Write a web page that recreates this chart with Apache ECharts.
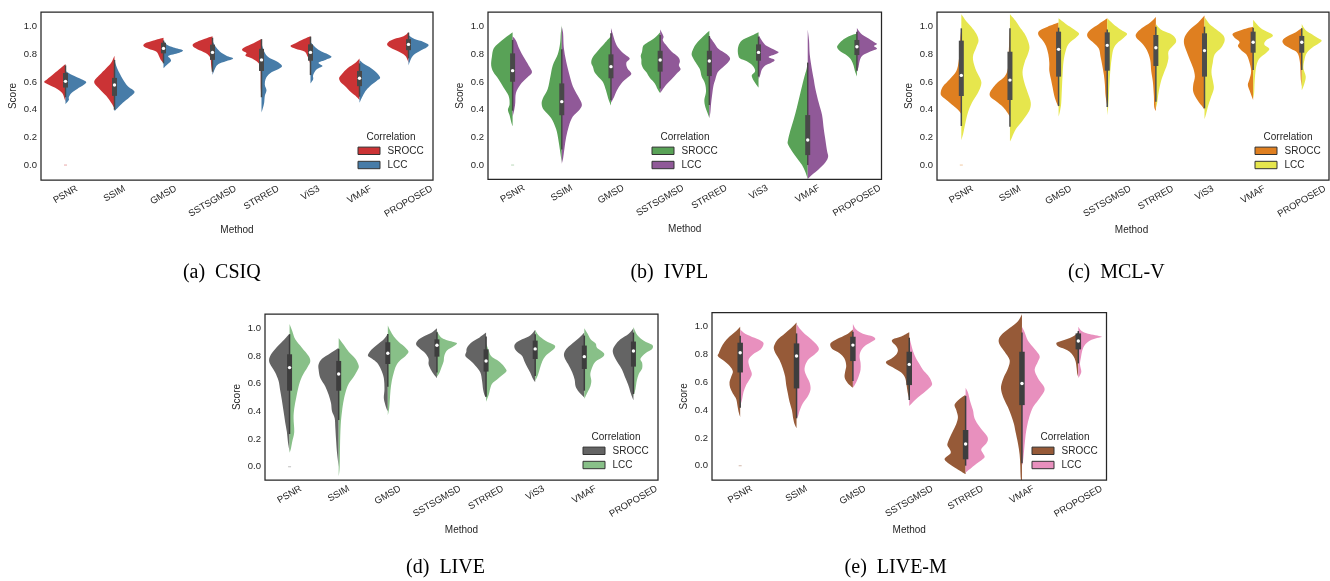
<!DOCTYPE html>
<html><head><meta charset="utf-8">
<script src="https://cdn.jsdelivr.net/npm/echarts@6/dist/echarts.min.js"></script>
<style>html,body{margin:0;padding:0;background:#fff}#c{width:1330px;height:581px}</style>
</head><body><div id="c"></div><script>
// ---------------- DATA ----------------
const methods = ['PSNR','SSIM','GMSD','SSTSGMSD','STRRED','ViS3','VMAF','PROPOSED'];
const methodsLiveM = ['PSNR','SSIM','GMSD','SSTSGMSD','STRRED','VMAF','PROPOSED'];
const correlations = ['SROCC','LCC'];
const captions = ['(a)  CSIQ','(b)  IVPL','(c)  MCL-V','(d)  LIVE','(e)  LIVE-M'];
const yTicks = [0, 0.2, 0.4, 0.6, 0.8, 1.0];
const zeroMarkValue = 0.0; // tiny PSNR mark at 0.0 in every panel

// Half-violin profiles: [score, relative density width]
const csiqSrocc = [
 [[0.73,0],[0.70,15],[0.66,35],[0.62,55],[0.60,64],[0.58,50],[0.55,25],[0.52,10],[0.48,3],[0.46,0]],
 [[0.79,0],[0.74,10],[0.70,25],[0.65,45],[0.60,61],[0.55,45],[0.50,25],[0.45,10],[0.41,0]],
 [[0.92,0],[0.90,30],[0.88,55],[0.86,60],[0.84,45],[0.82,22],[0.79,14],[0.76,8],[0.74,0]],
 [[0.93,0],[0.91,25],[0.88,55],[0.86,59],[0.84,48],[0.82,30],[0.80,15],[0.77,6],[0.72,4],[0.66,0]],
 [[0.91,0],[0.88,24],[0.85,52],[0.83,58],[0.81,45],[0.79,48],[0.77,28],[0.74,10],[0.70,3],[0.55,2],[0.49,0]],
 [[0.93,0],[0.91,20],[0.88,45],[0.86,60],[0.84,45],[0.82,18],[0.79,10],[0.76,4],[0.72,0]],
 [[0.77,0],[0.74,12],[0.70,36],[0.66,52],[0.63,61],[0.60,57],[0.57,43],[0.53,27],[0.50,12],[0.47,0]],
 [[0.96,0],[0.93,15],[0.91,43],[0.89,60],[0.87,64],[0.85,55],[0.82,30],[0.79,10],[0.76,3],[0.74,0]]
];
const csiqLcc = [
 [[0.68,0],[0.65,20],[0.62,48],[0.60,62],[0.58,55],[0.55,35],[0.52,18],[0.49,10],[0.47,10],[0.44,0]],
 [[0.76,0],[0.70,8],[0.62,25],[0.57,40],[0.53,60],[0.49,45],[0.45,25],[0.42,12],[0.39,0]],
 [[0.90,0],[0.87,10],[0.85,30],[0.83,58],[0.81,45],[0.79,15],[0.77,20],[0.75,22],[0.72,8],[0.70,0]],
 [[0.90,0],[0.86,8],[0.82,22],[0.79,42],[0.77,62],[0.75,40],[0.73,18],[0.70,8],[0.65,0]],
 [[0.88,0],[0.82,8],[0.78,20],[0.75,45],[0.72,61],[0.70,55],[0.67,30],[0.63,14],[0.58,10],[0.54,15],[0.50,10],[0.45,8],[0.41,4],[0.38,0]],
 [[0.89,0],[0.85,15],[0.82,33],[0.80,52],[0.78,63],[0.76,45],[0.74,24],[0.715,36],[0.69,18],[0.65,8],[0.62,8],[0.59,0]],
 [[0.76,0],[0.73,14],[0.70,35],[0.67,50],[0.63,62],[0.61,52],[0.58,36],[0.54,20],[0.50,10],[0.45,0]],
 [[0.94,0],[0.91,18],[0.89,45],[0.87,60],[0.85,54],[0.83,38],[0.80,18],[0.77,8],[0.72,0]]
];
const csiqBox = [ // [whiskerLow, q1, median, q3, whiskerHigh]
 [0.49,0.56,0.605,0.665,0.72],[0.40,0.50,0.578,0.63,0.76],[0.735,0.807,0.843,0.884,0.90],[0.675,0.76,0.814,0.87,0.92],
 [0.49,0.68,0.76,0.84,0.91],[0.65,0.754,0.814,0.872,0.928],[0.494,0.57,0.627,0.68,0.735],[0.771,0.83,0.872,0.91,0.957]
];

const ivplSrocc = [
 [[0.96,0],[0.92,22],[0.88,42],[0.84,57],[0.78,62],[0.72,64],[0.67,57],[0.62,42],[0.56,27],[0.50,12],[0.44,9],[0.40,14],[0.36,9],[0.31,4],[0.28,0]],
 [[1.01,0],[0.95,3],[0.88,5],[0.80,12],[0.72,27],[0.64,34],[0.55,42],[0.48,57],[0.44,60],[0.40,54],[0.34,32],[0.26,17],[0.18,10],[0.10,5],[0.02,0]],
 [[0.93,0],[0.88,19],[0.84,34],[0.78,54],[0.74,59],[0.71,54],[0.67,49],[0.64,39],[0.60,24],[0.54,15],[0.48,8],[0.43,0]],
 [[0.96,0],[0.92,16],[0.88,41],[0.86,51],[0.82,54],[0.79,58],[0.76,56],[0.73,56],[0.70,51],[0.67,41],[0.63,31],[0.59,16],[0.55,8],[0.52,0]],
 [[0.97,0],[0.93,18],[0.88,38],[0.84,48],[0.80,53],[0.77,48],[0.73,38],[0.69,28],[0.64,23],[0.59,13],[0.53,10],[0.47,15],[0.42,12],[0.38,6],[0.34,0]],
 [[0.96,0],[0.93,25],[0.90,50],[0.86,60],[0.82,62],[0.79,60],[0.77,55],[0.75,35],[0.72,18],[0.68,10],[0.65,20],[0.62,17],[0.59,9],[0.56,0]],
 [[0.75,0],[0.70,3],[0.62,12],[0.52,22],[0.42,32],[0.33,42],[0.25,52],[0.18,59],[0.15,59],[0.10,47],[0.05,32],[0.00,17],[-0.05,7],[-0.10,0]],
 [[0.95,0],[0.93,24],[0.90,44],[0.87,56],[0.85,59],[0.82,49],[0.79,29],[0.76,17],[0.72,10],[0.68,6],[0.64,0]]
];
const ivplLcc = [
 [[0.93,0],[0.90,10],[0.84,20],[0.78,33],[0.72,48],[0.67,58],[0.63,43],[0.58,23],[0.52,10],[0.45,8],[0.40,5],[0.35,0]],
 [[1.00,0],[0.95,4],[0.85,6],[0.75,13],[0.65,23],[0.57,33],[0.50,48],[0.44,60],[0.40,53],[0.35,33],[0.28,21],[0.20,13],[0.12,8],[0.05,4],[0.01,0]],
 [[0.99,0],[0.95,5],[0.90,11],[0.85,21],[0.80,41],[0.77,56],[0.74,46],[0.70,49],[0.66,61],[0.63,49],[0.59,31],[0.54,18],[0.49,9],[0.45,0]],
 [[0.98,0],[0.93,10],[0.90,8],[0.86,20],[0.82,34],[0.78,54],[0.75,59],[0.72,56],[0.69,61],[0.66,49],[0.62,34],[0.58,18],[0.54,6],[0.52,0]],
 [[0.93,0],[0.88,15],[0.84,27],[0.80,52],[0.77,62],[0.74,55],[0.70,37],[0.67,25],[0.62,18],[0.57,12],[0.50,8],[0.44,5],[0.38,3],[0.34,0]],
 [[0.94,0],[0.89,13],[0.86,25],[0.83,50],[0.815,60],[0.80,50],[0.78,30],[0.76,48],[0.74,38],[0.72,20],[0.69,10],[0.65,5],[0.62,0]],
 [[0.98,0],[0.90,4],[0.80,6],[0.70,12],[0.62,18],[0.55,23],[0.45,33],[0.36,43],[0.26,48],[0.18,53],[0.10,58],[0.06,61],[0.02,53],[-0.03,33],[-0.07,13],[-0.10,0]],
 [[0.99,0],[0.95,12],[0.92,31],[0.89,51],[0.875,60],[0.86,51],[0.84,60],[0.82,40],[0.79,16],[0.75,8],[0.71,5],[0.67,0]]
];
const ivplBox = [
 [0.393,0.602,0.682,0.807,0.904],[0.113,0.36,0.458,0.59,0.836],[0.47,0.627,0.711,0.80,0.952],[0.554,0.675,0.759,0.826,0.94],
 [0.434,0.643,0.752,0.826,0.932],[0.639,0.754,0.814,0.872,0.928],[0.0,0.072,0.181,0.361,0.74],[0.682,0.795,0.855,0.904,0.964]
];

const mclvSrocc = [
 [[0.98,0],[0.92,3],[0.82,5],[0.75,8],[0.68,15],[0.62,35],[0.57,55],[0.53,62],[0.50,60],[0.47,45],[0.43,25],[0.40,10],[0.37,0]],
 [[0.98,0],[0.90,2],[0.80,4],[0.70,6],[0.64,16],[0.60,36],[0.56,51],[0.52,61],[0.49,58],[0.46,41],[0.42,21],[0.38,8],[0.35,0]],
 [[1.03,0],[1.00,33],[0.97,58],[0.94,61],[0.90,48],[0.86,38],[0.80,31],[0.74,28],[0.68,28],[0.62,23],[0.56,18],[0.50,13],[0.45,6],[0.42,0]],
 [[1.06,0],[1.02,25],[0.98,50],[0.95,60],[0.92,58],[0.88,40],[0.84,25],[0.78,20],[0.72,15],[0.65,10],[0.58,7],[0.50,5],[0.43,0]],
 [[1.07,0],[1.03,17],[0.99,42],[0.95,59],[0.92,59],[0.88,42],[0.83,27],[0.76,17],[0.68,14],[0.60,9],[0.50,6],[0.42,5],[0.39,0]],
 [[1.08,0],[1.03,19],[0.98,44],[0.93,59],[0.88,62],[0.82,54],[0.76,44],[0.70,34],[0.64,29],[0.58,34],[0.53,34],[0.48,24],[0.43,9],[0.40,0]],
 [[1.00,0],[0.98,31],[0.95,61],[0.92,56],[0.89,41],[0.86,46],[0.83,36],[0.80,21],[0.75,12],[0.68,6],[0.62,11],[0.58,16],[0.54,11],[0.50,5],[0.47,0]],
 [[0.99,0],[0.96,18],[0.93,43],[0.90,58],[0.87,53],[0.84,33],[0.81,13],[0.75,6],[0.68,4],[0.62,3],[0.57,0]]
];
const mclvLcc = [
 [[1.09,0],[1.04,15],[1.00,30],[0.95,45],[0.90,52],[0.85,45],[0.78,35],[0.70,42],[0.62,58],[0.58,60],[0.52,50],[0.45,32],[0.38,20],[0.30,12],[0.23,6],[0.18,0]],
 [[1.09,0],[1.04,18],[1.00,29],[0.95,44],[0.90,54],[0.85,59],[0.80,54],[0.74,44],[0.67,38],[0.60,43],[0.52,54],[0.45,63],[0.39,58],[0.32,38],[0.26,18],[0.20,6],[0.17,0]],
 [[1.06,0],[1.02,22],[0.98,47],[0.95,62],[0.92,52],[0.88,32],[0.83,22],[0.75,15],[0.65,12],[0.55,10],[0.45,8],[0.40,5],[0.35,0]],
 [[1.06,0],[1.02,18],[0.98,40],[0.95,60],[0.92,50],[0.88,30],[0.84,19],[0.78,14],[0.70,10],[0.60,7],[0.50,5],[0.42,3],[0.36,0]],
 [[1.02,0],[0.98,15],[0.95,43],[0.92,58],[0.89,61],[0.86,51],[0.82,38],[0.77,38],[0.72,33],[0.67,25],[0.60,15],[0.52,8],[0.45,4],[0.41,0]],
 [[1.07,0],[1.02,15],[0.98,36],[0.94,56],[0.90,61],[0.85,51],[0.80,31],[0.74,25],[0.67,21],[0.60,26],[0.55,28],[0.48,18],[0.42,10],[0.37,5],[0.33,0]],
 [[1.05,0],[1.01,14],[0.98,29],[0.95,54],[0.93,59],[0.90,39],[0.87,34],[0.84,49],[0.81,39],[0.77,19],[0.72,10],[0.65,6],[0.58,4],[0.52,3],[0.48,0]],
 [[1.02,0],[0.98,10],[0.95,27],[0.92,47],[0.90,60],[0.88,52],[0.85,32],[0.81,15],[0.76,8],[0.70,5],[0.64,12],[0.59,8],[0.54,0]]
];
const mclvBox = [
 [0.282,0.499,0.648,0.899,0.988],[0.277,0.47,0.614,0.819,0.988],[0.427,0.639,0.836,0.964,0.993],[0.42,0.682,0.865,0.959,0.98],
 [0.458,0.716,0.848,0.94,1.0],[0.41,0.639,0.827,0.952,1.0],[0.687,0.812,0.887,0.964,0.993],[0.687,0.812,0.887,0.933,0.988]
];

const liveSrocc = [
 [[0.96,0],[0.90,23],[0.85,43],[0.80,58],[0.76,61],[0.72,53],[0.68,43],[0.62,33],[0.55,28],[0.48,23],[0.40,18],[0.32,13],[0.25,8],[0.18,5],[0.11,0]],
 [[0.86,0],[0.82,25],[0.78,50],[0.74,60],[0.70,60],[0.64,55],[0.58,40],[0.52,30],[0.46,23],[0.40,20],[0.35,12],[0.28,10],[0.20,8],[0.10,5],[0.00,0]],
 [[0.96,0],[0.92,12],[0.88,32],[0.85,47],[0.82,57],[0.80,59],[0.78,47],[0.75,32],[0.70,20],[0.64,12],[0.56,10],[0.50,12],[0.46,9],[0.42,4],[0.40,0]],
 [[1.00,0],[0.97,15],[0.94,40],[0.91,58],[0.88,62],[0.85,50],[0.82,35],[0.78,25],[0.74,25],[0.70,18],[0.67,10],[0.64,0]],
 [[0.97,0],[0.93,22],[0.90,42],[0.86,57],[0.83,59],[0.80,62],[0.77,49],[0.73,32],[0.68,17],[0.62,12],[0.56,9],[0.52,5],[0.50,0]],
 [[0.99,0],[0.95,14],[0.92,39],[0.89,59],[0.86,62],[0.83,54],[0.80,39],[0.76,32],[0.72,24],[0.68,15],[0.64,8],[0.61,0]],
 [[0.97,0],[0.93,16],[0.89,36],[0.85,54],[0.81,61],[0.77,56],[0.73,46],[0.68,36],[0.63,29],[0.58,26],[0.54,16],[0.50,0]],
 [[1.00,0],[0.96,14],[0.92,39],[0.88,54],[0.85,61],[0.82,61],[0.78,54],[0.74,44],[0.70,34],[0.64,24],[0.58,14],[0.53,8],[0.48,0]]
];
const liveLcc = [
 [[1.03,0],[0.98,8],[0.92,17],[0.86,37],[0.80,57],[0.76,62],[0.72,54],[0.65,37],[0.58,27],[0.50,20],[0.42,14],[0.35,12],[0.25,14],[0.18,8],[0.13,4],[0.10,0]],
 [[0.93,0],[0.88,15],[0.83,30],[0.78,50],[0.73,60],[0.70,57],[0.65,45],[0.60,30],[0.55,22],[0.48,15],[0.40,10],[0.30,6],[0.15,4],[0.00,3],[-0.07,0]],
 [[1.02,0],[0.98,8],[0.94,18],[0.90,33],[0.86,53],[0.83,62],[0.80,53],[0.77,38],[0.73,25],[0.68,18],[0.62,12],[0.55,8],[0.48,6],[0.42,4],[0.37,0]],
 [[0.98,0],[0.93,15],[0.90,50],[0.89,60],[0.87,50],[0.84,30],[0.80,22],[0.76,20],[0.72,14],[0.68,8],[0.65,0]],
 [[0.89,0],[0.84,8],[0.80,15],[0.77,33],[0.74,48],[0.71,58],[0.69,61],[0.66,48],[0.63,33],[0.60,18],[0.56,12],[0.52,8],[0.47,0]],
 [[0.99,0],[0.95,10],[0.91,31],[0.88,56],[0.86,59],[0.83,46],[0.80,31],[0.76,21],[0.71,14],[0.66,8],[0.62,0]],
 [[1.00,0],[0.96,10],[0.92,19],[0.89,34],[0.86,38],[0.82,59],[0.79,54],[0.76,34],[0.72,24],[0.67,18],[0.62,21],[0.58,18],[0.54,10],[0.49,0]],
 [[1.01,0],[0.95,12],[0.91,31],[0.88,56],[0.85,56],[0.82,36],[0.78,21],[0.75,26],[0.71,26],[0.67,16],[0.62,10],[0.56,6],[0.51,0]]
];
const liveBox = [
 [0.236,0.549,0.716,0.812,0.957],[0.337,0.549,0.67,0.764,0.85],[0.578,0.742,0.819,0.899,0.959],[0.68,0.795,0.877,0.92,0.971],
 [0.506,0.687,0.764,0.848,0.94],[0.655,0.778,0.851,0.911,0.957],[0.549,0.706,0.795,0.875,0.947],[0.525,0.723,0.836,0.904,0.969]
];

const liveMSrocc = [
 [[1.00,0],[0.97,12],[0.93,32],[0.89,47],[0.85,57],[0.81,64],[0.79,67],[0.76,52],[0.72,32],[0.68,22],[0.64,27],[0.60,32],[0.56,30],[0.52,22],[0.48,12],[0.43,8],[0.39,5],[0.35,0]],
 [[1.03,0],[0.99,16],[0.95,36],[0.91,56],[0.87,66],[0.84,68],[0.80,61],[0.76,51],[0.70,41],[0.64,34],[0.58,31],[0.52,26],[0.46,21],[0.40,14],[0.34,10],[0.30,6],[0.27,0]],
 [[0.98,0],[0.95,15],[0.92,40],[0.89,63],[0.87,68],[0.84,62],[0.81,40],[0.77,25],[0.72,20],[0.68,23],[0.64,25],[0.61,20],[0.58,10],[0.56,0]],
 [[0.96,0],[0.93,24],[0.91,49],[0.89,51],[0.86,39],[0.83,34],[0.80,39],[0.77,54],[0.75,69],[0.73,66],[0.70,44],[0.67,24],[0.63,12],[0.58,8],[0.53,5],[0.48,0]],
 [[0.51,0],[0.48,18],[0.44,33],[0.40,28],[0.35,23],[0.30,28],[0.25,38],[0.20,48],[0.15,55],[0.12,48],[0.09,45],[0.05,63],[0.02,53],[-0.02,28],[-0.05,8],[-0.06,0]],
 [[1.09,0],[1.04,12],[0.99,37],[0.94,62],[0.90,70],[0.86,64],[0.82,52],[0.76,37],[0.70,42],[0.64,54],[0.58,62],[0.54,62],[0.48,54],[0.42,42],[0.36,32],[0.30,24],[0.24,19],[0.16,12],[0.08,7],[0.00,5],[-0.08,4],[-0.15,0]],
 [[0.96,0],[0.93,16],[0.91,36],[0.89,61],[0.88,66],[0.86,61],[0.84,41],[0.82,26],[0.79,15],[0.75,8],[0.70,5],[0.66,3],[0.64,0]]
];
const liveMLcc = [
 [[0.98,0],[0.95,15],[0.92,43],[0.89,68],[0.86,68],[0.83,58],[0.80,38],[0.76,25],[0.71,28],[0.66,35],[0.62,28],[0.58,18],[0.53,10],[0.48,6],[0.43,0]],
 [[1.02,0],[0.98,12],[0.95,24],[0.91,44],[0.86,64],[0.83,66],[0.80,54],[0.76,34],[0.70,24],[0.65,29],[0.60,39],[0.55,42],[0.50,34],[0.45,19],[0.40,10],[0.36,5],[0.34,0]],
 [[1.02,0],[0.98,10],[0.95,30],[0.93,60],[0.91,67],[0.89,55],[0.86,35],[0.83,25],[0.79,20],[0.74,23],[0.69,23],[0.64,17],[0.60,10],[0.56,0]],
 [[0.93,0],[0.88,5],[0.82,12],[0.77,21],[0.73,31],[0.69,41],[0.65,56],[0.61,66],[0.58,68],[0.55,56],[0.51,36],[0.47,16],[0.43,0]],
 [[0.56,0],[0.52,8],[0.46,14],[0.40,22],[0.34,27],[0.28,42],[0.22,62],[0.19,67],[0.16,62],[0.12,47],[0.09,52],[0.06,57],[0.03,42],[0.00,25],[-0.03,10],[-0.05,0]],
 [[1.00,0],[0.96,8],[0.90,18],[0.84,38],[0.79,53],[0.75,48],[0.69,38],[0.63,48],[0.58,63],[0.55,68],[0.52,63],[0.47,48],[0.42,33],[0.35,22],[0.28,15],[0.20,10],[0.10,6],[0.03,3],[0.00,0]],
 [[1.00,0],[0.97,10],[0.95,29],[0.93,69],[0.92,59],[0.90,34],[0.87,20],[0.83,12],[0.78,8],[0.73,5],[0.68,9],[0.65,5],[0.63,0]]
];
const liveMBox = [
 [0.417,0.671,0.813,0.885,0.935],[0.341,0.556,0.789,0.88,0.952],[0.609,0.753,0.868,0.928,0.964],[0.472,0.58,0.729,0.82,0.921],
 [0.0,0.046,0.156,0.257,0.501],[0.017,0.436,0.592,0.82,0.959],[0.736,0.837,0.897,0.952,0.969]
];

// ---------------- LAYOUT / STYLE ----------------
const FF = '"Liberation Sans", Arial, Helvetica, sans-serif';
const SERIF = '"Liberation Serif", "Times New Roman", serif';
const TXT = '#262626';
const FS = 9.5;
const panels = [
 {left:41,  top:12,    width:392,   height:168,   ymin:-0.108, ymax:1.106, ref:147, cats:methods,      srocc:csiqSrocc,  lcc:csiqLcc,  box:csiqBox,
  colors:['#cb3335','#477ca8'], gray:'#484848', legend:[358,137],  caption:[221.8,273], boxW:5},
 {left:488, top:12,    width:393.5, height:167.3, ymin:-0.103, ymax:1.106, ref:147, cats:methods,      srocc:ivplSrocc,  lcc:ivplLcc,  box:ivplBox,
  colors:['#59a257','#905998'], gray:'#484848', legend:[652,137],  caption:[669.3,273], boxW:5},
 {left:937, top:12,    width:392,   height:168,   ymin:-0.108, ymax:1.106, ref:147, cats:methods,      srocc:mclvSrocc,  lcc:mclvLcc,  box:mclvBox,
  colors:['#df7f20','#e6e64d'], gray:'#4c4c4c', legend:[1255,137], caption:[1116.3,273], boxW:5},
 {left:265, top:314,   width:393,   height:166,   ymin:-0.096, ymax:1.103, ref:147, cats:methods,      srocc:liveSrocc,  lcc:liveLcc,  box:liveBox,
  colors:['#646464','#88c088'], gray:'#3d3d3d', legend:[583,437],  caption:[445.5,568], boxW:5},
 {left:712, top:312.7, width:394.5, height:167.3, ymin:-0.103, ymax:1.101, ref:169, cats:methodsLiveM, srocc:liveMSrocc, lcc:liveMLcc, box:liveMBox,
  colors:['#965a38','#e890be'], gray:'#3e3e3e', legend:[1032,437], caption:[895.7,568], boxW:5.5}
];

// measure text for centred rotated tick labels
const mctx = document.createElement('canvas').getContext('2d');
mctx.font = FS + 'px ' + FF;
function xRich(cats) {
  const rich = {};
  cats.forEach((c, i) => {
    const w = mctx.measureText(c).width;
    const s = 5 + w / 4 + 0.433 * 0.72 * FS;
    rich['l' + i] = {fontSize: FS, fontFamily: FF, color: TXT, padding: [1.732 * s, s, 0, 0]};
  });
  return rich;
}

function violinRenderer(profiles, side, ref, color) {
  return function (params, api) {
    const i = params.dataIndex;
    const prof = profiles[i];
    const band = api.size([1, 0])[0];
    const cx = api.coord([i, 0])[0];
    const pts = prof.map(([v, w]) => {
      const c = api.coord([i, v]);
      return [cx + side * w / ref * band, c[1]];
    });
    const clampX = x => side < 0 ? Math.min(x, cx) : Math.max(x, cx);
    let d = 'M' + cx + ' ' + pts[0][1];
    for (let k = 0; k < pts.length - 1; k++) {
      const p0 = pts[Math.max(k - 1, 0)], p1 = pts[k], p2 = pts[k + 1], p3 = pts[Math.min(k + 2, pts.length - 1)];
      const c1x = clampX(p1[0] + (p2[0] - p0[0]) / 6), c1y = p1[1] + (p2[1] - p0[1]) / 6;
      const c2x = clampX(p2[0] - (p3[0] - p1[0]) / 6), c2y = p2[1] - (p3[1] - p1[1]) / 6;
      d += ' C' + c1x + ' ' + c1y + ' ' + c2x + ' ' + c2y + ' ' + p2[0] + ' ' + p2[1];
    }
    d += ' L' + cx + ' ' + pts[pts.length - 1][1] + ' L' + cx + ' ' + pts[0][1] + ' Z';
    return {type: 'path', shape: {pathData: d}, style: {fill: color, stroke: null}};
  };
}

function boxRenderer(boxes, gray, boxW) {
  return function (params, api) {
    const i = params.dataIndex;
    const b = boxes[i];
    const lo = api.coord([i, b[0]]), q1 = api.coord([i, b[1]]), md = api.coord([i, b[2]]),
          q3 = api.coord([i, b[3]]), hi = api.coord([i, b[4]]);
    return {type: 'group', children: [
      {type: 'line', shape: {x1: lo[0], y1: lo[1], x2: hi[0], y2: hi[1]}, style: {stroke: gray, lineWidth: 1.5}},
      {type: 'line', shape: {x1: q1[0], y1: q1[1], x2: q3[0], y2: q3[1]}, style: {stroke: gray, lineWidth: boxW, lineCap: 'butt'}},
      {type: 'circle', shape: {cx: md[0], cy: md[1], r: 1.7}, style: {fill: '#ffffff', stroke: null}}
    ]};
  };
}

const option = {backgroundColor: '#ffffff', animation: false, grid: [], xAxis: [], yAxis: [], series: [], graphic: []};

panels.forEach((p, k) => {
  option.grid.push({left: p.left, top: p.top, width: p.width, height: p.height, show: false, containLabel: false});
  option.xAxis.push({
    type: 'category', gridIndex: k, data: p.cats, boundaryGap: true,
    axisLine: {show: false}, axisTick: {show: false}, splitLine: {show: false},
    axisLabel: {interval: 0, rotate: 30, align: 'center', verticalAlign: 'middle', margin: 0,
      fontSize: FS, fontFamily: FF, color: TXT,
      formatter: (v, i) => '{l' + i + '|' + v + '}', rich: xRich(p.cats)},
    name: 'Method', nameLocation: 'middle', nameGap: 45,
    nameTextStyle: {fontSize: 10, fontFamily: FF, color: TXT}
  });
  option.yAxis.push({
    type: 'value', gridIndex: k, min: p.ymin, max: p.ymax,
    axisLine: {show: false}, axisTick: {show: false}, splitLine: {show: false},
    axisLabel: {customValues: yTicks, margin: 4, fontSize: FS, fontFamily: FF, color: TXT,
      formatter: v => (Math.abs(v * 5 - Math.round(v * 5)) > 1e-6) ? '' : (Math.round(v * 10) / 10).toFixed(1)},
    name: 'Score', nameLocation: 'middle', nameGap: 23,
    nameTextStyle: {fontSize: 10, fontFamily: FF, color: TXT}
  });
  [p.srocc, p.lcc].forEach((prof, s) => {
    option.series.push({
      type: 'custom', name: correlations[s], xAxisIndex: k, yAxisIndex: k, clip: true, silent: true, z: 2,
      data: prof.map((pr, i) => [i, pr[0][0], pr[pr.length - 1][0]]),
      encode: {x: 0, y: [1, 2]},
      renderItem: violinRenderer(prof, s === 0 ? -1 : 1, p.ref, p.colors[s])
    });
  });
  option.series.push({
    type: 'custom', name: 'box', xAxisIndex: k, yAxisIndex: k, silent: true, z: 3,
    data: p.box.map((b, i) => [i, ...b]), encode: {x: 0, y: [1, 2, 3, 4, 5]},
    renderItem: boxRenderer(p.box, p.gray, p.boxW)
  });
  option.series.push({
    type: 'scatter', xAxisIndex: k, yAxisIndex: k, silent: true, z: 2,
    data: [[0, zeroMarkValue]], symbol: 'rect', symbolSize: [3, 1.2],
    itemStyle: {color: p.colors[0], opacity: 0.35}
  });
  // frame
  option.graphic.push({type: 'rect', z: 100, silent: true,
    shape: {x: p.left, y: p.top, width: p.width, height: p.height},
    style: {fill: null, stroke: '#262626', lineWidth: 1.25}});
  // legend
  const [lx, ly] = p.legend;
  option.graphic.push({type: 'text', z: 100, silent: true,
    style: {text: 'Correlation', x: lx + 33, y: ly, align: 'center', verticalAlign: 'middle', font: '10px ' + FF, fill: TXT}});
  correlations.forEach((c, s) => {
    const cy = ly + 13.8 + s * 14.2;
    option.graphic.push({type: 'rect', z: 100, silent: true,
      shape: {x: lx, y: cy - 3.7, width: 22, height: 7.4},
      style: {fill: p.colors[s], stroke: '#333333', lineWidth: 1}});
    option.graphic.push({type: 'text', z: 100, silent: true,
      style: {text: c, x: lx + 29.5, y: cy, align: 'left', verticalAlign: 'middle', font: '10px ' + FF, fill: TXT}});
  });
  // caption
  option.graphic.push({type: 'text', z: 100, silent: true,
    style: {text: captions[k], x: p.caption[0], y: p.caption[1], align: 'center', verticalAlign: 'middle',
      font: '20px ' + SERIF, fill: '#000000'}});
});

const chart = echarts.init(document.getElementById('c'), null, {renderer: 'canvas'});
chart.setOption(option);
</script></body></html>
